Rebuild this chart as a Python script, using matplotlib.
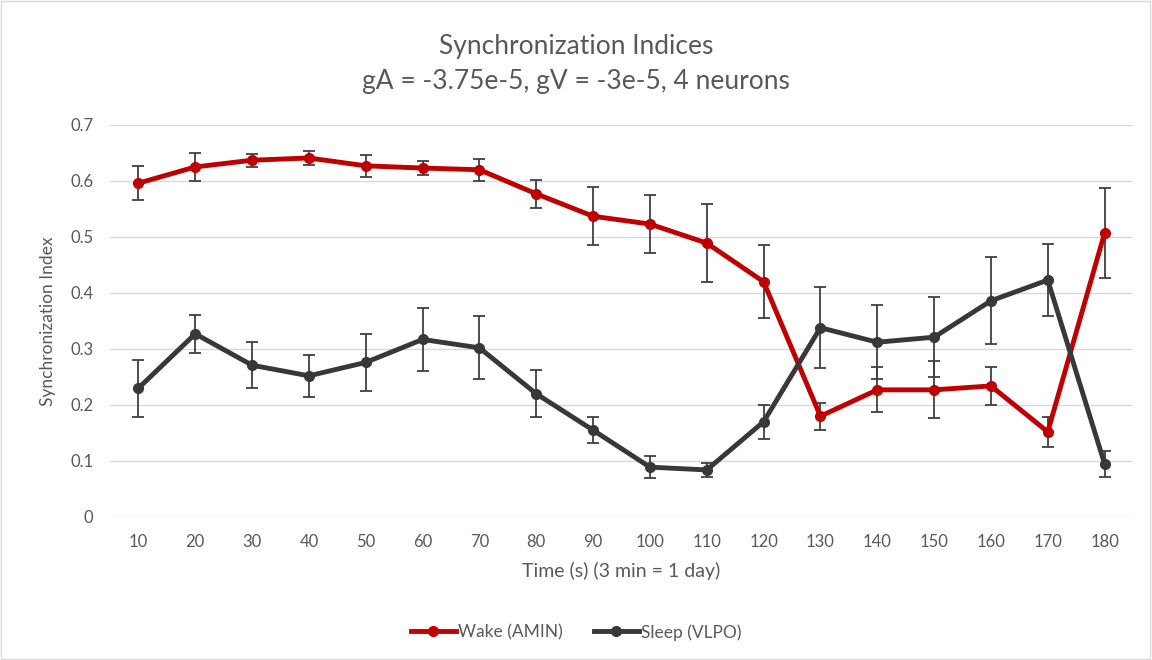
import matplotlib
matplotlib.use('Agg')
import matplotlib.pyplot as plt
from matplotlib.lines import Line2D
import numpy as np

plt.rcParams['font.family'] = ['Lato', 'DejaVu Sans']

times = [10, 20, 30, 40, 50, 60, 70, 80, 90, 100, 110, 120, 130, 140, 150, 160, 170, 180]

wake = [0.596, 0.625, 0.637, 0.641, 0.627, 0.623, 0.620, 0.577, 0.537, 0.523,
        0.489, 0.420, 0.180, 0.227, 0.227, 0.234, 0.152, 0.507]
wake_err = [0.030, 0.025, 0.012, 0.012, 0.020, 0.013, 0.020, 0.025, 0.052, 0.052,
            0.070, 0.065, 0.024, 0.040, 0.051, 0.034, 0.027, 0.080]

sleep = [0.230, 0.327, 0.271, 0.252, 0.276, 0.317, 0.302, 0.220, 0.155, 0.089,
         0.084, 0.170, 0.338, 0.312, 0.321, 0.386, 0.423, 0.095]
sleep_err = [0.051, 0.034, 0.041, 0.038, 0.051, 0.056, 0.056, 0.042, 0.023, 0.019,
             0.012, 0.030, 0.072, 0.066, 0.071, 0.078, 0.065, 0.023]

text_col = '#595959'
red = '#C00000'
dark = '#383838'

fig = plt.figure(figsize=(11.52, 6.6), dpi=100)
ax = fig.add_axes([0.0955, 0.2167, 0.888, 0.594])

x = np.arange(len(times))
ax.errorbar(x, wake, yerr=wake_err, color=red, lw=3.5, marker='o', ms=7,
            ecolor='#404040', elinewidth=1.3, capsize=4, capthick=1.3,
            label='Wake (AMIN)', zorder=3)
ax.errorbar(x, sleep, yerr=sleep_err, color=dark, lw=3.5, marker='o', ms=7,
            ecolor='#404040', elinewidth=1.3, capsize=4, capthick=1.3,
            label='Sleep (VLPO)', zorder=4)

ax.set_xlim(-0.5, len(times) - 0.5)
ax.set_ylim(0, 0.7)
ax.set_xticks(x)
ax.set_xticklabels([str(t) for t in times])
ax.set_yticks(np.arange(0, 0.71, 0.1))
ax.set_yticklabels(['0', '0.1', '0.2', '0.3', '0.4', '0.5', '0.6', '0.7'])
ax.tick_params(length=0, colors=text_col, labelsize=12, pad=12)
ax.grid(axis='y', color='#D9D9D9', lw=1)
ax.set_axisbelow(True)
for s in ax.spines.values():
    s.set_visible(False)

ax.set_xlabel('Time (s) (3 min = 1 day)', color=text_col, fontsize=14, labelpad=9)
ax.set_ylabel('Synchronization Index', color=text_col, fontsize=12.5, labelpad=10)

fig.text(0.5, 0.93, 'Synchronization Indices', ha='center', va='center',
         color=text_col, fontsize=19)
fig.text(0.5, 0.877, 'gA = -3.75e-5, gV = -3e-5, 4 neurons', ha='center', va='center',
         color=text_col, fontsize=19)

labels = ['Wake (AMIN)', 'Sleep (VLPO)']
h = [Line2D([], [], color=red, lw=3.5, marker='o', ms=7),
     Line2D([], [], color=dark, lw=3.5, marker='o', ms=7)]
leg = fig.legend(h, labels, loc='center', bbox_to_anchor=(0.5, 0.042), ncol=2,
                 frameon=False, fontsize=12.5, handlelength=2.6, handletextpad=0.1,
                 columnspacing=1.8)
for t in leg.get_texts():
    t.set_color(text_col)

fig.patches.append(plt.Rectangle((0.001, 0.001), 0.997, 0.997, transform=fig.transFigure,
                                 fill=False, edgecolor='#D9D9D9', lw=1))

fig.savefig('out.png', dpi=100)
